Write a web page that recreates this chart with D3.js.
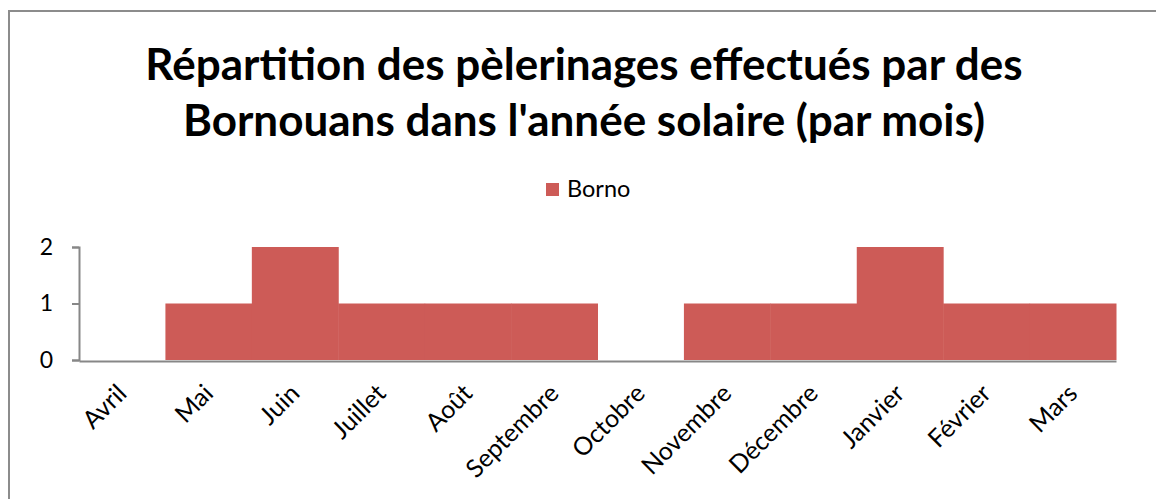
<!DOCTYPE html>
<html>
<head>
<meta charset="utf-8">
<script src="https://cdn.jsdelivr.net/npm/d3@7"></script>
<style>
  html, body { margin: 0; padding: 0; background: #fff; }
  svg { display: block; }
  text { font-family: Lato, "Open Sans", sans-serif; fill: #000; }
</style>
</head>
<body>
<svg id="chart" width="1156" height="499"></svg>
<script>
// Pilgrimages per month (solar year, April to March)
const months = ["Avril", "Mai", "Juin", "Juillet", "Août", "Septembre",
                "Octobre", "Novembre", "Décembre", "Janvier", "Février", "Mars"];
const borno = [0, 1, 2, 1, 1, 1, 0, 1, 1, 2, 1, 1];
const yTicks = [0, 1, 2];
const seriesName = "Borno";
const titleLines = ["Répartition des pèlerinages effectués par des",
                    "Bornouans dans l'année solaire (par mois)"];

const svg = d3.select("#chart");
const plot = { left: 79, right: 1116, top: 247, bottom: 360 };
const barColor = "#cd5b57";
const axisColor = "#878787";

// Outer chart frame
svg.append("rect")
  .attr("x", 9).attr("y", 11)
  .attr("width", 1170).attr("height", 520)
  .attr("fill", "none")
  .attr("stroke", "#8c8c8c")
  .attr("stroke-width", 2);

// Title
const title = svg.append("text")
  .attr("text-anchor", "middle")
  .attr("font-weight", "bold")
  .attr("font-size", 44);
title.selectAll("tspan")
  .data(titleLines)
  .join("tspan")
  .attr("x", 584)
  .attr("y", (d, i) => 80 + i * 56)
  .text(d => d);

// Legend
const legend = svg.append("g").attr("transform", "translate(546,183)");
legend.append("rect")
  .attr("width", 13).attr("height", 13)
  .attr("fill", barColor);
legend.append("text")
  .attr("x", 21).attr("y", 14)
  .attr("font-size", 23.5)
  .text(seriesName);

// Scales
const x = d3.scaleBand()
  .domain(months)
  .range([plot.left, plot.right])
  .paddingInner(0).paddingOuter(0);

const y = d3.scaleLinear()
  .domain([0, 2])
  .range([plot.bottom, plot.top]);

// Bars (no gap between categories)
svg.append("g")
  .selectAll("rect")
  .data(months.map((m, i) => ({ m, v: borno[i] })))
  .join("rect")
  .attr("x", d => x(d.m))
  .attr("y", d => y(d.v))
  .attr("width", x.bandwidth() + 0.5)
  .attr("height", d => y(0) - y(d.v))
  .attr("fill", barColor);

// Y axis
const yAxis = svg.append("g")
  .attr("transform", `translate(${plot.left},0)`)
  .call(d3.axisLeft(y).tickValues(yTicks).tickFormat(d3.format("d"))
        .tickSize(7).tickPadding(19));
yAxis.select(".domain").attr("stroke", axisColor).attr("stroke-width", 2);
yAxis.selectAll(".tick line").attr("stroke", axisColor).attr("stroke-width", 2);
yAxis.selectAll(".tick text")
  .attr("font-size", 23)
  .attr("font-family", "Lato, sans-serif")
  .attr("fill", "#000");

// X axis
const xAxis = svg.append("g")
  .attr("transform", `translate(0,${plot.bottom + 1})`)
  .call(d3.axisBottom(x).tickSize(0).tickPadding(0));
xAxis.select(".domain").attr("stroke", axisColor).attr("stroke-width", 2);
xAxis.selectAll(".tick text")
  .attr("font-size", 25)
  .attr("font-family", "Lato, sans-serif")
  .attr("fill", "#000")
  .attr("text-anchor", "end")
  .attr("dy", 0)
  .attr("transform", "translate(6,34) rotate(-45)");
</script>
</body>
</html>
